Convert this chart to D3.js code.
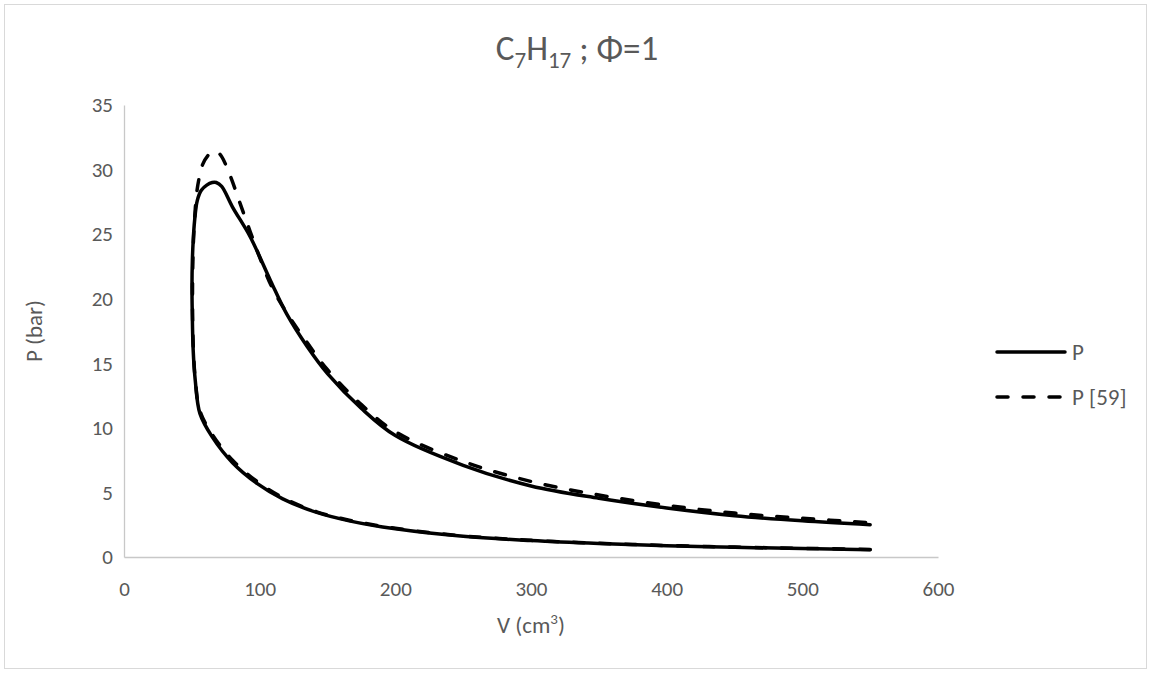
<!DOCTYPE html>
<html>
<head>
<meta charset="utf-8">
<script src="https://cdn.jsdelivr.net/npm/d3@7"></script>
<style>
  html, body { margin: 0; padding: 0; background: #fff; }
  svg text { font-family: Carlito, Calibri, Lato, "Open Sans", sans-serif; fill: #595959; }
</style>
</head>
<body>
<svg id="chart" width="1151" height="674"></svg>
<script>
// Series "P" (model): compression branch, combustion, expansion branch
const pV = [550, 500, 450, 400, 350, 300, 250, 200, 166, 142, 117, 98, 80, 65, 56, 52.5, 51, 50.3, 50.1, 50.4, 51, 52, 54, 57, 61, 65, 68, 72, 80, 93, 108, 120, 135, 150, 175, 200, 250, 300, 350, 400, 450, 500, 550];
const pP = [0.57, 0.65, 0.75, 0.87, 1.04, 1.27, 1.6, 2.18, 2.8, 3.45, 4.5, 5.7, 7.3, 9.3, 11.1, 13.7, 16, 19, 21, 23, 24.5, 26, 27.6, 28.4, 28.8, 29.0, 29.0, 28.7, 27.1, 24.8, 21.4, 18.8, 16.3, 14.2, 11.5, 9.4, 7.1, 5.5, 4.55, 3.8, 3.2, 2.8, 2.5];

// Series "P [59]" (reference data)
const rV = [550, 500, 450, 400, 350, 300, 250, 200, 166, 142, 117, 98, 80, 65, 56, 52.5, 51, 50.5, 50.6, 51.2, 52, 53.6, 55.5, 58, 62, 65.5, 68.5, 72, 78, 85.5, 93, 100, 109, 120, 135, 150, 175, 200, 250, 300, 350, 400, 450, 500, 550];
const rP = [0.59, 0.67, 0.77, 0.89, 1.06, 1.29, 1.63, 2.22, 2.85, 3.5, 4.6, 5.85, 7.5, 9.5, 11.3, 13.8, 16.5, 19.5, 22, 24.5, 26.1, 28.2, 29.4, 30.4, 31.1, 31.4, 31.4, 31.0, 29.6, 27.4, 25.2, 23.2, 20.9, 18.9, 16.6, 14.5, 11.8, 9.7, 7.4, 5.85, 4.8, 4.0, 3.4, 3.0, 2.65];

const xTicks = [0, 100, 200, 300, 400, 500, 600];
const yTicks = [0, 5, 10, 15, 20, 25, 30, 35];
const seriesNames = ["P", "P [59]"];

const svg = d3.select("#chart");

// chart area border
svg.append("rect")
  .attr("x", 4.5).attr("y", 4.5).attr("width", 1142).attr("height", 664)
  .attr("fill", "#fff").attr("stroke", "#d9d9d9").attr("stroke-width", 1);

const x = d3.scaleLinear().domain([0, 600]).range([124, 938]);
const y = d3.scaleLinear().domain([0, 35]).range([557, 105]);

// axes
const xAxis = svg.append("g").attr("transform", `translate(0,${y(0)})`)
  .call(d3.axisBottom(x).tickValues(xTicks).tickSize(0).tickPadding(24).tickFormat(d3.format("d")));
const yAxis = svg.append("g").attr("transform", `translate(${x(0)},0)`)
  .call(d3.axisLeft(y).tickValues(yTicks).tickSize(0).tickPadding(11).tickFormat(d3.format("d")));
[xAxis, yAxis].forEach(g => {
  g.select(".domain").attr("stroke", "#c8c8c8").attr("stroke-width", 1.3);
  g.selectAll("text").attr("font-size", 21).attr("fill", "#595959")
    .style("font-family", "Carlito, Calibri, Lato, sans-serif");
});

// lines
const line = d3.line().x(d => x(d[0])).y(d => y(d[1])).curve(d3.curveCatmullRom.alpha(0.5));
const pData = pV.map((v, i) => [v, pP[i]]);
const rData = rV.map((v, i) => [v, rP[i]]);

svg.append("path").datum(pData).attr("d", line)
  .attr("fill", "none").attr("stroke", "#000").attr("stroke-width", 3.5)
  .attr("stroke-linejoin", "round").attr("stroke-linecap", "round");
svg.append("path").datum(rData).attr("d", line)
  .attr("fill", "none").attr("stroke", "#000").attr("stroke-width", 3.5)
  .attr("stroke-dasharray", "11,15").attr("stroke-linecap", "round");

// title
const title = svg.append("text").attr("x", 577).attr("y", 60).attr("text-anchor", "middle")
  .attr("font-size", 35);
title.append("tspan").text("C");
title.append("tspan").attr("font-size", 23).attr("dy", 8).text("7");
title.append("tspan").attr("dy", -8).text("H");
title.append("tspan").attr("font-size", 23).attr("dy", 8).text("17");
title.append("tspan").attr("dy", -8).text(" ; Φ=1");

// axis titles
svg.append("text").attr("transform", "translate(42,331) rotate(-90)")
  .attr("text-anchor", "middle").attr("font-size", 23).text("P (bar)");
const xt = svg.append("text").attr("x", 531).attr("y", 633).attr("text-anchor", "middle").attr("font-size", 23);
xt.append("tspan").text("V (cm");
xt.append("tspan").attr("font-size", 15).attr("dy", -9).text("3");
xt.append("tspan").attr("dy", 9).text(")");

// legend
const legY = [352, 397];
const leg = svg.append("g");
seriesNames.forEach((name, i) => {
  leg.append("line").attr("x1", 997).attr("x2", 1065).attr("y1", legY[i]).attr("y2", legY[i])
    .attr("stroke", "#000").attr("stroke-width", 3.5).attr("stroke-linecap", "round")
    .attr("stroke-dasharray", i === 1 ? "11,15" : null);
  leg.append("text").attr("x", 1072).attr("y", legY[i]).attr("dy", "0.35em")
    .attr("font-size", 23).text(name);
});
</script>
</body>
</html>
